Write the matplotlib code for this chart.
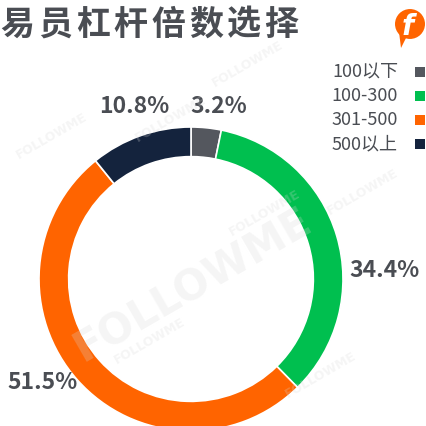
import matplotlib.pyplot as plt
from matplotlib.patches import Rectangle, Circle, Polygon

# data
categories = ["100以下", "100-300", "301-500", "500以上"]
shares = [3.2, 34.4, 51.5, 10.8]
title_text = "易员杠杆倍数选择"

colors = ["#54575e", "#00bf4f", "#ff6400", "#14233d"]
text_color = "#4a4d53"

plt.rcParams['font.family'] = ['Noto Sans CJK SC', 'DejaVu Sans']

W, H = 427, 426
fig = plt.figure(figsize=(W / 100, H / 100), dpi=100)
fig.patch.set_facecolor("white")

# faint watermarks
for (wx, wy, ws) in [(0.45, 0.33, 30), (0.12, 0.68, 9), (0.40, 0.72, 9),
                     (0.62, 0.50, 9), (0.85, 0.55, 9), (0.75, 0.12, 9),
                     (0.35, 0.20, 9), (0.58, 0.85, 9)]:
    fig.text(wx, wy, "FOLLOWME", fontsize=ws, fontweight="bold", color="#d8d8d8",
             alpha=0.25, rotation=30, ha="center", va="center", family="DejaVu Sans")

# donut
cx, cy, r = 191, 279, 152
ax = fig.add_axes([(cx - r) / W, (H - cy - r) / H, 2 * r / W, 2 * r / H])
wedges, _ = ax.pie(shares, colors=colors, startangle=90, counterclock=False,
                   wedgeprops=dict(width=0.195, edgecolor="white", linewidth=1.2))
ax.set_xlim(-1, 1)
ax.set_ylim(-1, 1)
ax.axis("off")

# percentage labels
label_pos = [(0.184, 1.138), (1.27, 0.053), (-0.974, -0.684), (-0.375, 1.138)]
for v, (lx, ly) in zip(shares, label_pos):
    ax.text(lx, ly, f"{v}%", fontsize=16.5, fontweight="bold", color=text_color,
            ha="center", va="center")

# title (letter-spaced)
for i, ch in enumerate(title_text):
    fig.text((0.5 + 37.7 * i) / W, 1 - 24 / H, ch, fontsize=24.5, fontweight="bold",
             color=text_color, ha="left", va="center")

# legend
for i, (lab, col) in enumerate(zip(categories, colors)):
    yc = 72 + 24 * i
    fig.text(398 / W, 1 - yc / H, lab, fontsize=13, color=text_color,
             ha="right", va="center")
    fig.patches.append(Rectangle((415 / W, 1 - (yc + 5) / H), 10 / W, 10 / H,
                                 transform=fig.transFigure, facecolor=col,
                                 edgecolor="none"))

# logo
fig.patches.append(Polygon([(399 / W, 1 - 32 / H), (406 / W, 1 - 38 / H), (401 / W, 1 - 48 / H)],
                           closed=True, transform=fig.transFigure,
                           facecolor="#ff6400", edgecolor="none"))
fig.patches.append(Circle((410 / W, 1 - 24 / H), 15 / W, transform=fig.transFigure,
                          facecolor="#ff6400", edgecolor="none"))
fig.text(408 / W, 1 - 27 / H, "f", fontsize=20, fontweight="bold", style="italic",
         color="white", ha="center", va="center", family="DejaVu Sans")

fig.savefig("out.png", dpi=100, facecolor="white")
